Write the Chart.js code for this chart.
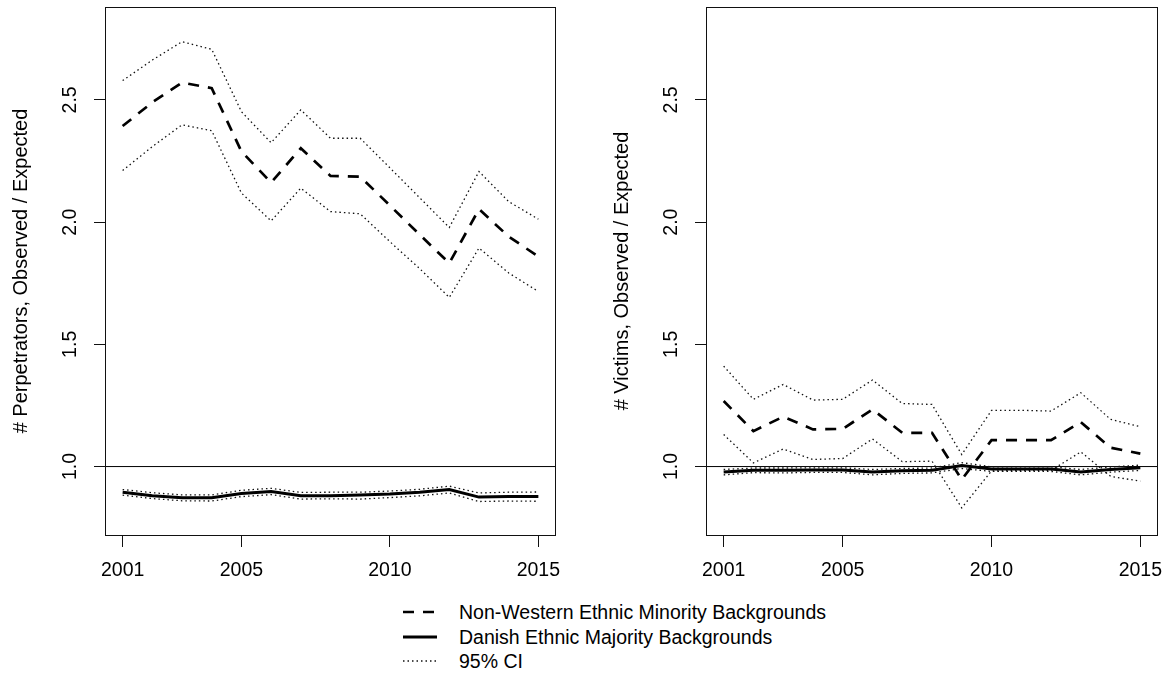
<!DOCTYPE html>
<html>
<head>
<meta charset="utf-8">
<script src="https://cdn.jsdelivr.net/npm/chart.js@4.4.1/dist/chart.umd.min.js"></script>
<style>
  html, body { margin:0; padding:0; background:#fff; width:1169px; height:676px; overflow:hidden; }
  #c1 { position:absolute; left:0; top:0; }
  #c2 { position:absolute; left:601px; top:0; }
  .leg { position:absolute; left:400px; height:24px; line-height:24px; white-space:nowrap;
         font-family:"Liberation Sans", Arial, sans-serif; font-size:19.5px; color:#000; }
  .leg svg { position:absolute; left:0; top:0; }
  .leg span { position:absolute; left:59px; top:0; }
</style>
</head>
<body>
<canvas id="c1" width="601" height="592"></canvas>
<canvas id="c2" width="568" height="592"></canvas>
<div id="legend"></div>
<script>
// ---------------- data ----------------
const years = [2001,2002,2003,2004,2005,2006,2007,2008,2009,2010,2011,2012,2013,2014,2015];
const xTicks = [2001,2005,2010,2015];
const yTicks = [1.0,1.5,2.0,2.5];
const refValue = 1.0;

// Perpetrators panel
const perpNW   = [2.393,2.490,2.571,2.548,2.289,2.162,2.302,2.189,2.186,2.068,1.949,1.832,2.053,1.941,1.859];
const perpNWUp = [2.579,2.663,2.738,2.707,2.452,2.325,2.459,2.343,2.343,2.222,2.100,1.978,2.207,2.084,2.012];
const perpNWLo = [2.211,2.309,2.398,2.374,2.119,2.005,2.139,2.043,2.034,1.920,1.810,1.692,1.894,1.792,1.716];
const perpDK   = [0.895,0.881,0.872,0.872,0.890,0.898,0.881,0.881,0.884,0.888,0.895,0.906,0.875,0.877,0.877];
const perpDKUp = [0.906,0.893,0.884,0.884,0.903,0.911,0.894,0.895,0.895,0.900,0.907,0.920,0.892,0.895,0.896];
const perpDKLo = [0.883,0.869,0.860,0.859,0.877,0.885,0.867,0.868,0.867,0.873,0.880,0.892,0.857,0.859,0.858];

// Victims panel
const vicNW   = [1.268,1.145,1.204,1.152,1.154,1.234,1.138,1.138,0.947,1.108,1.108,1.108,1.182,1.077,1.053];
const vicNWUp = [1.411,1.275,1.336,1.272,1.275,1.354,1.258,1.254,1.049,1.230,1.230,1.227,1.302,1.193,1.163];
const vicNWLo = [1.131,1.015,1.072,1.029,1.033,1.113,1.020,1.022,0.831,0.982,0.984,0.984,1.060,0.960,0.940];
const vicDK   = [0.978,0.985,0.985,0.986,0.986,0.978,0.983,0.985,1.004,0.990,0.990,0.990,0.978,0.988,0.995];
const vicDKUp = [0.988,0.994,0.994,0.995,0.995,0.988,0.992,0.994,1.016,0.999,0.999,0.999,0.988,0.998,1.006];
const vicDKLo = [0.966,0.975,0.974,0.976,0.976,0.966,0.972,0.974,0.992,0.980,0.980,0.980,0.966,0.977,0.984];

const yTitles = ['# Perpetrators, Observed / Expected', '# Victims, Observed / Expected'];
const legendLabels = ['Non-Western Ethnic Minority Backgrounds', 'Danish Ethnic Majority Backgrounds', '95% CI'];

// ---------------- styling / layout ----------------
const X_MIN = 2000.44, X_MAX = 2015.56, Y_MIN = 0.72, Y_MAX = 2.88;
const FONT = '"Liberation Sans", Arial, sans-serif';
const DASH = [11, 9], DOT = [1.5, 3];
const STY = {
  nw:  { borderColor:'#000', borderWidth:2.7, borderDash:DASH },
  dk:  { borderColor:'#000', borderWidth:3 },
  ci:  { borderColor:'#111', borderWidth:1.3, borderDash:DOT },
  ref: { borderColor:'#000', borderWidth:1 }
};

function pts(arr) { return years.map((yr, i) => ({ x: yr, y: arr[i] })); }
function ds(arr, sty) {
  return Object.assign({ data: pts(arr), pointRadius:0, tension:0, fill:false, borderCapStyle:'butt' }, sty);
}

const boxPlugin = {
  id: 'box',
  afterDraw(chart) {
    const a = chart.chartArea, ctx = chart.ctx;
    ctx.save();
    ctx.strokeStyle = '#111';
    ctx.lineWidth = 1;
    const l = Math.round(a.left) - 0.5, t = Math.round(a.top) + 0.5;
    const r = Math.round(a.right) + 0.5, b = Math.round(a.bottom) + 0.5;
    ctx.strokeRect(l, t, r - l, b - t);
    ctx.restore();
  }
};

function makeChart(id, title, nw, nwUp, nwLo, dk, dkUp, dkLo, padRight) {
  return new Chart(document.getElementById(id), {
    type: 'line',
    data: {
      datasets: [
        ds(nw, STY.nw),
        ds(dk, STY.dk),
        ds(nwUp, STY.ci), ds(nwLo, STY.ci),
        ds(dkUp, STY.ci), ds(dkLo, STY.ci),
        Object.assign({ data:[{x:X_MIN, y:refValue},{x:X_MAX, y:refValue}], pointRadius:0 }, STY.ref)
      ]
    },
    options: {
      responsive: false,
      animation: false,
      devicePixelRatio: 1,
      layout: { padding: { left:0, top:7, right:padRight, bottom:0 } },
      plugins: { legend:{display:false}, tooltip:{enabled:false} },
      scales: {
        x: {
          type: 'linear', min: X_MIN, max: X_MAX,
          afterBuildTicks: s => { s.ticks = xTicks.map(v => ({ value: v })); },
          afterFit: s => { s.height = 57; s.paddingLeft = 0; s.paddingRight = 0; },
          border: { display:false },
          grid: { display:true, drawOnChartArea:false, drawTicks:true, tickLength:12, color:'#111', lineWidth:1 },
          ticks: { color:'#000', font:{ family:FONT, size:19.5 }, padding:12, maxRotation:0, autoSkip:false,
                   callback: v => String(v) }
        },
        y: {
          type: 'linear', min: Y_MIN, max: Y_MAX,
          afterBuildTicks: s => { s.ticks = yTicks.map(v => ({ value: v })); },
          afterFit: s => { s.width = 106; s.paddingTop = 0; s.paddingBottom = 0; },
          border: { display:false },
          grid: { display:true, drawOnChartArea:false, drawTicks:true, tickLength:12, color:'#111', lineWidth:1 },
          ticks: { color:'#000', font:{ family:FONT, size:19.5 }, padding:10, minRotation:90, maxRotation:90,
                   crossAlign:'center', autoSkip:false, callback: v => Number(v).toFixed(1) },
          title: { display:true, text:title, color:'#000', font:{ family:FONT, size:20 },
                   padding:{ top:9, bottom:0 } }
        }
      }
    },
    plugins: [boxPlugin]
  });
}

makeChart('c1', yTitles[0], perpNW, perpNWUp, perpNWLo, perpDK, perpDKUp, perpDKLo, 46);
makeChart('c2', yTitles[1], vicNW, vicNWUp, vicNWLo, vicDK, vicDKUp, vicDKLo, 12);

// ---------------- legend ----------------
const legTops = [600, 624.5, 649];
const legStyles = [
  { w:2.7, dash:'11 9', col:'#000' },
  { w:3,   dash:'',     col:'#000' },
  { w:1.3, dash:'1.5 3', col:'#111' }
];
const legEl = document.getElementById('legend');
legendLabels.forEach((lab, i) => {
  const d = document.createElement('div');
  d.className = 'leg';
  d.style.top = legTops[i] + 'px';
  const st = legStyles[i];
  d.innerHTML = '<svg width="45" height="24"><line x1="3" y1="12" x2="37" y2="12" stroke="' + st.col +
    '" stroke-width="' + st.w + '"' + (st.dash ? ' stroke-dasharray="' + st.dash + '"' : '') + '/></svg>';
  const s = document.createElement('span');
  s.textContent = lab;
  d.appendChild(s);
  legEl.appendChild(d);
});
</script>
</body>
</html>
